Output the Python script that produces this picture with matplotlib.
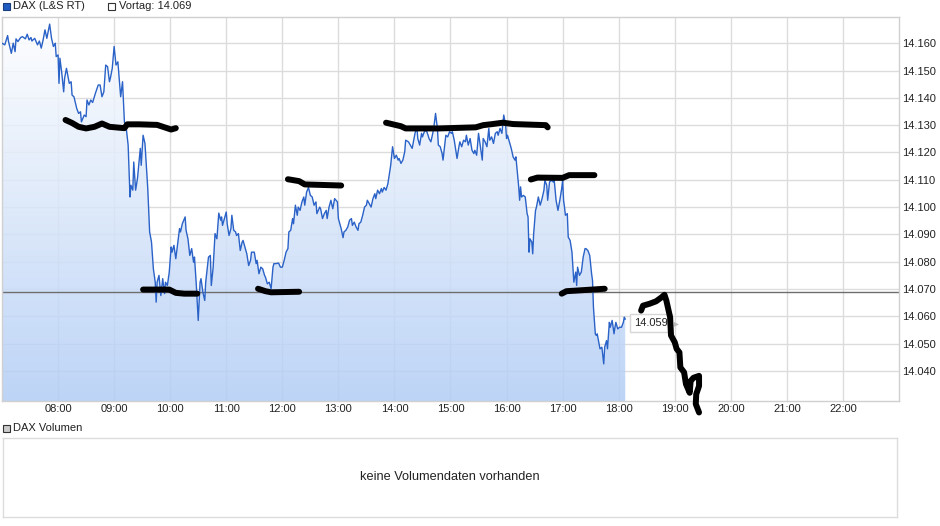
import matplotlib.pyplot as plt
import matplotlib.patches as mpatches
from matplotlib.colors import LinearSegmentedColormap
import numpy as np

plt.rcParams['font.family'] = ['Liberation Sans', 'DejaVu Sans']

# intraday DAX (L&S RT): minutes after 07:00 and price in points
minutes = [
    0, 3, 6, 7, 10, 12, 14, 15, 17, 20, 22, 25, 27, 29, 31, 32, 35, 38, 40, 42,
    44, 46, 48, 51, 53, 55, 57, 58, 60, 61, 62, 64, 66, 67, 69, 72, 74, 75, 77, 80,
    82, 84, 85, 88, 90, 91, 93, 95, 97, 100, 103, 105, 107, 109, 111, 113, 115, 116, 118, 120,
    122, 124, 125, 127, 129, 131, 133, 135, 137, 138, 140, 141, 143, 145, 148, 149, 151, 153, 156, 158,
    160, 162, 164, 165, 166, 168, 170, 172, 174, 175, 177, 179, 181, 182, 184, 186, 188, 190, 191, 193,
    196, 197, 199, 201, 203, 205, 206, 208, 210, 212, 213, 215, 217, 218, 221, 223, 224, 226, 228, 230,
    232, 234, 235, 236, 239, 240, 241, 243, 245, 246, 248, 250, 251, 253, 255, 257, 258, 260, 262, 264,
    266, 267, 270, 272, 273, 275, 277, 279, 281, 282, 284, 286, 288, 290, 291, 293, 296, 298, 300, 302,
    304, 306, 307, 309, 311, 312, 314, 316, 317, 319, 321, 323, 324, 326, 328, 330, 332, 334, 336, 337,
    340, 341, 343, 345, 347, 348, 350, 352, 354, 356, 359, 360, 363, 365, 366, 368, 370, 372, 374, 375,
    377, 379, 381, 382, 384, 386, 388, 390, 391, 393, 395, 397, 399, 400, 402, 404, 406, 407, 409, 411,
    413, 415, 416, 418, 420, 422, 424, 425, 427, 429, 431, 432, 435, 436, 439, 442, 444, 445, 447, 449,
    450, 452, 454, 456, 457, 459, 461, 462, 464, 466, 467, 469, 471, 472, 474, 475, 477, 479, 481, 482,
    484, 487, 489, 490, 492, 494, 496, 497, 499, 501, 503, 505, 506, 508, 510, 512, 514, 515, 517, 519,
    521, 522, 524, 526, 528, 530, 531, 533, 535, 537, 539, 540, 541, 543, 545, 547, 549, 550, 551, 552,
    553, 554, 555, 556, 558, 560, 562, 563, 564, 565, 567, 568, 569, 571, 572, 574, 576, 578, 580, 581,
    583, 584, 586, 588, 590, 591, 593, 595, 597, 599, 600, 601, 602, 603, 605, 606, 608, 610, 611, 612,
    614, 615, 616, 618, 620, 622, 624, 625, 627, 629, 631, 632, 633, 635, 636, 637, 639, 640, 642, 644,
    645, 647, 648, 650, 651, 653, 655, 656, 657, 659, 661, 663, 665, 666, 667,
]
prices = [
    14160.0, 14159.4, 14162.8, 14160.6, 14156.3, 14160.0, 14156.9, 14161.6, 14160.6, 14162.1,
    14162.4, 14161.6, 14163.3, 14161.2, 14162.1, 14160.8, 14161.8, 14159.4, 14160.8, 14158.2,
    14161.2, 14164.9, 14161.8, 14167.0, 14161.8, 14158.8, 14160.0, 14155.1, 14155.7, 14145.3,
    14154.5, 14149.0, 14142.2, 14147.2, 14150.8, 14145.3, 14145.9, 14141.0, 14140.4, 14136.1,
    14134.3, 14134.9, 14131.2, 14133.7, 14133.1, 14139.2, 14137.4, 14139.2, 14138.3, 14141.7,
    14144.7, 14144.7, 14140.4, 14142.2, 14152.0, 14151.4, 14145.9, 14147.2, 14150.8, 14158.8,
    14152.0, 14153.2, 14149.0, 14140.4, 14145.9, 14131.2, 14128.8, 14122.7, 14103.7, 14108.0,
    14106.2, 14116.5, 14106.2, 14110.5, 14121.5, 14115.3, 14126.3, 14123.3, 14106.8, 14090.9,
    14087.2, 14077.4, 14072.5, 14065.2, 14072.5, 14075.0, 14067.6, 14073.8, 14068.3, 14072.5,
    14071.3, 14076.2, 14085.4, 14083.5, 14086.0, 14081.1, 14086.6, 14092.1, 14090.9, 14093.9,
    14096.4, 14091.5, 14088.4, 14082.3, 14084.8, 14079.8, 14081.7, 14071.3, 14058.5, 14072.5,
    14073.8, 14068.8, 14065.8, 14072.5, 14081.7, 14082.3, 14071.3, 14078.0, 14090.3, 14088.4,
    14097.8, 14095.2, 14096.4, 14093.3, 14097.0, 14098.2, 14093.9, 14089.6, 14092.1, 14097.0,
    14091.5, 14090.9, 14089.6, 14090.3, 14084.1, 14087.2, 14087.8, 14085.4, 14082.9, 14078.6,
    14080.5, 14083.5, 14083.5, 14079.3, 14080.5, 14075.6, 14078.0, 14077.4, 14075.0, 14074.3,
    14071.9, 14072.5, 14070.1, 14078.0, 14079.3, 14079.3, 14079.5, 14078.0, 14078.0, 14080.5,
    14083.5, 14084.8, 14090.9, 14091.5, 14095.8, 14093.9, 14100.7, 14097.0, 14100.0, 14098.8,
    14101.9, 14103.7, 14100.7, 14105.5, 14107.2, 14104.3, 14103.7, 14100.7, 14101.9, 14097.6,
    14100.0, 14099.4, 14095.8, 14097.6, 14098.8, 14095.8, 14100.0, 14102.5, 14099.4, 14103.1,
    14101.9, 14095.8, 14092.1, 14088.8, 14090.9, 14091.5, 14092.7, 14095.2, 14095.8, 14093.3,
    14094.5, 14092.7, 14091.5, 14093.9, 14094.5, 14097.0, 14100.0, 14100.7, 14102.5, 14101.3,
    14100.0, 14103.1, 14104.9, 14103.1, 14106.2, 14104.9, 14106.8, 14105.5, 14107.2, 14106.2,
    14108.6, 14112.9, 14115.3, 14122.1, 14117.8, 14119.0, 14117.2, 14117.8, 14116.0, 14117.2,
    14120.2, 14124.5, 14123.9, 14123.3, 14121.5, 14127.0, 14129.4, 14125.1, 14122.7, 14127.0,
    14125.7, 14127.6, 14128.2, 14126.3, 14125.1, 14123.9, 14127.0, 14128.8, 14134.3, 14128.8,
    14122.7, 14122.1, 14119.6, 14117.2, 14123.3, 14126.3, 14125.7, 14127.6, 14127.0, 14127.6,
    14124.5, 14117.8, 14122.1, 14123.9, 14122.1, 14124.5, 14123.9, 14126.3, 14122.7, 14125.1,
    14120.8, 14119.6, 14120.8, 14119.0, 14127.0, 14122.1, 14117.2, 14125.1, 14123.9, 14122.1,
    14128.8, 14124.5, 14125.7, 14123.3, 14127.0, 14127.6, 14126.3, 14128.8, 14127.0, 14133.7,
    14130.0, 14125.1, 14126.3, 14123.9, 14121.5, 14118.4, 14117.2, 14118.4, 14114.7, 14111.0,
    14107.4, 14102.5, 14107.4, 14103.7, 14104.3, 14103.7, 14097.6, 14096.4, 14083.5, 14088.4,
    14087.2, 14082.9, 14090.3, 14098.8, 14100.0, 14103.7, 14100.7, 14103.1, 14106.2, 14109.8,
    14108.0, 14102.5, 14109.2, 14109.8, 14109.2, 14109.8, 14102.5, 14098.8, 14102.5, 14106.8,
    14109.8, 14102.5, 14100.0, 14097.0, 14097.6, 14089.0, 14087.8, 14083.5, 14078.0, 14072.5,
    14076.2, 14071.3, 14078.0, 14075.0, 14076.2, 14081.7, 14084.8, 14084.8, 14084.1, 14082.3,
    14075.6, 14073.1, 14063.3, 14053.6, 14053.0, 14053.6, 14049.9, 14048.1, 14048.7, 14042.6,
    14048.7, 14051.1, 14048.1, 14057.8, 14056.0, 14058.5, 14053.6, 14056.0, 14057.8, 14055.4,
    14056.0, 14056.0, 14057.8, 14059.7, 14059.0,
]
vortag = 14069
last_price = 14059

hour_ticks = list(range(8, 23))
hour_labels = ['%02d:00' % h for h in hour_ticks]
price_ticks = list(range(14040, 14161, 10))

# hand drawn black marker strokes on top of the chart (minutes after 07:00, price)
stroke1_min = [68, 75, 82, 90, 99, 107, 115, 131, 134, 147, 166, 174, 181, 186]
stroke1_val = [14131.9, 14130.8, 14129.4, 14128.8, 14129.4, 14130.6, 14129.4, 14128.9, 14130.3, 14130.3,
               14130.1, 14129.2, 14128.4, 14128.9]
stroke2_min = [151, 179, 186, 195, 209]
stroke2_val = [14069.8, 14069.8, 14068.6, 14068.3, 14068.3]
stroke3_min = [274, 282, 288, 318]
stroke3_val = [14070.1, 14069.2, 14068.8, 14069.0]
stroke4_min = [306, 318, 324, 363]
stroke4_val = [14110.2, 14109.5, 14108.3, 14107.9]
stroke5_min = [411, 427, 432, 468, 507, 515, 525, 536, 547, 582, 584]
stroke5_val = [14130.9, 14129.6, 14128.8, 14128.8, 14129.2, 14130.0, 14130.4, 14130.9, 14130.4, 14130.0,
               14129.2]
stroke6_min = [566, 573, 600, 607, 634]
stroke6_val = [14110.1, 14110.8, 14110.7, 14111.7, 14111.7]
stroke7_min = [599, 604, 618, 645]
stroke7_val = [14068.3, 14069.2, 14069.5, 14070.1]
stroke8_min = [684, 686, 693, 700, 706, 709, 711, 715, 716, 720, 722, 725, 726, 730, 732, 736,
               737, 740, 746, 746, 743, 742.5, 746]
stroke8_val = [14062.1, 14063.9, 14064.6, 14065.5, 14067.0, 14067.9, 14065.8, 14059.7, 14053.0, 14050.5,
               14048.1, 14046.8, 14041.3, 14039.5, 14035.2, 14032.0, 14036.3, 14037.5, 14038.2, 14034.5,
               14031.5, 14027.9, 14024.8]
strokes = [(stroke1_min, stroke1_val), (stroke2_min, stroke2_val), (stroke3_min, stroke3_val),
           (stroke4_min, stroke4_val), (stroke5_min, stroke5_val), (stroke6_min, stroke6_val),
           (stroke7_min, stroke7_val), (stroke8_min, stroke8_val)]


def de(v):
    return f"{v:,.0f}".replace(",", ".")


def hours(mins):
    return 7 + np.array(mins, dtype=float) / 60


W, H = 940, 526
fig = plt.figure(figsize=(W / 100, H / 100), dpi=100)

ylo, yhi = 14029.0, 14169.6
ax = fig.add_axes([2 / W, 125 / H, 897 / W, 384 / H])
ax.set_xlim(7, 23)
ax.set_ylim(ylo, yhi)

t = hours(minutes)
p = np.array(prices)

ax.set_axisbelow(True)
ax.grid(color='#dcdcdc', lw=1)

# gradient area below the price line
cmap = LinearSegmentedColormap.from_list('dax', ['#b2cdf5', '#ffffff'])
grad = np.linspace(0, 1, 256).reshape(-1, 1)
img = ax.imshow(grad, extent=[7, 23, ylo, yhi], origin='lower', aspect='auto', cmap=cmap,
                alpha=0.85, zorder=1, interpolation='bilinear')
area = ax.fill_between(t, p, ylo, facecolor='none', edgecolor='none')
img.set_clip_path(area.get_paths()[0], transform=ax.transData)

ax.axhline(vortag, color='#6e6e6e', lw=1, zorder=2)
ax.plot(t, p, color='#2a62c8', lw=1, zorder=3)

ax.annotate(de(last_price), xy=(t[-1], p[-1]), xytext=(9, -4), textcoords='offset pixels',
            ha='left', va='center', fontsize=8, color='#222222', zorder=4,
            bbox=dict(boxstyle='square,pad=0.35', fc='white', ec='#d6d6d6', lw=1))
ax.annotate('\u25b8', xy=(t[-1], p[-1]), xytext=(49, -4), textcoords='offset pixels',
            ha='left', va='center', fontsize=7, color='#bbbbbb', zorder=4,
            family=['DejaVu Sans'])

for smin, sval in strokes:
    ax.plot(hours(smin), sval, color='black', lw=4.3, solid_capstyle='round',
            solid_joinstyle='round', zorder=6, clip_on=False)

ax.set_xticks(hour_ticks, hour_labels)
ax.yaxis.tick_right()
ax.set_yticks(price_ticks, [de(v) for v in price_ticks])
ax.tick_params(axis='x', length=0, pad=2.5, labelsize=8, labelcolor='#222222')
ax.tick_params(axis='y', length=0, pad=2.5, labelsize=8, labelcolor='#222222')
for s in ax.spines.values():
    s.set_color('#d0d0d0')
    s.set_linewidth(1)

# legend row on top
fig.patches.append(mpatches.Rectangle((3 / W, 1 - 10 / H), 7 / W, 7 / H, transform=fig.transFigure,
                                      fc='#1f5bc0', ec='#1a3f80', lw=0.8))
fig.text(13 / W, 1 - 6 / H, 'DAX (L&S RT)', fontsize=8, va='center', ha='left', color='#222222')
fig.patches.append(mpatches.Rectangle((108 / W, 1 - 10 / H), 7 / W, 7 / H, transform=fig.transFigure,
                                      fc='white', ec='#333333', lw=0.8))
fig.text(119 / W, 1 - 6 / H, 'Vortag: ' + de(vortag), fontsize=8, va='center', ha='left',
         color='#222222')

# volume panel
fig.patches.append(mpatches.Rectangle((3 / W, 1 - 432 / H), 7 / W, 7 / H, transform=fig.transFigure,
                                      fc='#cccccc', ec='#333333', lw=0.8))
fig.text(13 / W, 1 - 428 / H, 'DAX Volumen', fontsize=8, va='center', ha='left', color='#222222')
vax = fig.add_axes([3 / W, 9 / H, 894 / W, 79 / H])
vax.set_xticks([])
vax.set_yticks([])
for s in vax.spines.values():
    s.set_color('#dcdcdc')
    s.set_linewidth(1)
vax.text(0.5, 0.5, 'keine Volumendaten vorhanden', transform=vax.transAxes, ha='center',
         va='center', fontsize=9.2, color='#222222')

fig.savefig('out.png', dpi=100)
plt.close('all')
